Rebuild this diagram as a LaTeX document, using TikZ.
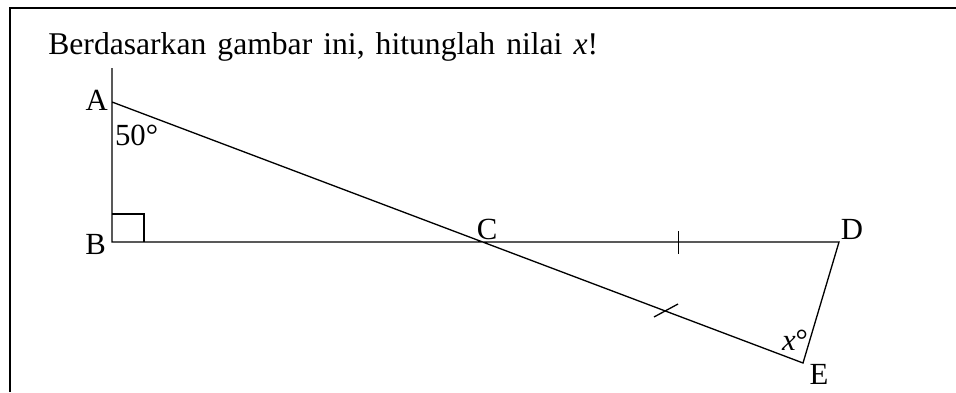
\documentclass[tikz,border=0pt]{standalone}
\usepackage{fontspec}
\setmainfont{Liberation Serif}
\newfontfamily\questionfont[WordSpace=1.4]{Liberation Serif}
\usetikzlibrary{calc}
\tikzset{
  geo/.style={black, line width=0.75pt},
  frame/.style={black, line width=1.15pt},
  lbl/.style={font=\fontsize{17.5}{20}\selectfont, inner sep=1pt}
}
\begin{document}
\begin{tikzpicture}[x=0.02cm, y=-0.02cm]
  \useasboundingbox (0,0) rectangle (956,392);
  % ---------- Frame and question ----------
  \draw[frame] (10,392) -- (10,8) -- (956,8);
  \node[lbl, font=\questionfont\fontsize{18}{20}\selectfont, anchor=base west, inner sep=0pt] (question) at (48,54)
    {Berdasarkan gambar ini, hitunglah nilai \textit{x}!};

  % ---------- Points ----------
  \coordinate (top) at (112,68);
  \coordinate (A) at (112,102);
  \coordinate (B) at (112,242);
  \coordinate (C) at (480,242);
  \coordinate (D) at (839,242);
  \coordinate (E) at (803,363);

  % ---------- Figure ----------
  \draw[geo] (top) -- (B) -- (D) -- (E) -- (A);
  \draw[geo] ($(B)+(0,-28)$) -- ($(B)+(32,-28)$) -- ($(B)+(32,0)$);
  \draw[geo] ($(C)!0.552!(D)+(0,-11)$) -- ($(C)!0.552!(D)+(0,12)$);
  \draw[geo] (654,317) -- (678,304);

  % ---------- Labels ----------
  \node[lbl, anchor=east] (labA) at (110,100) {A};
  \node[lbl, anchor=east] (labB) at (108,244) {B};
  \node[lbl, anchor=south] (labC) at (487,242) {C};
  \node[lbl, anchor=south] (labD) at (852,242) {D};
  \node[lbl, anchor=north] (labE) at (819,362) {E};
  \node[lbl, anchor=west] (angA) at (113,135) {50°};
  \node[lbl] (angE) at (795,340) {\textit{x}°};
\end{tikzpicture}
\end{document}
